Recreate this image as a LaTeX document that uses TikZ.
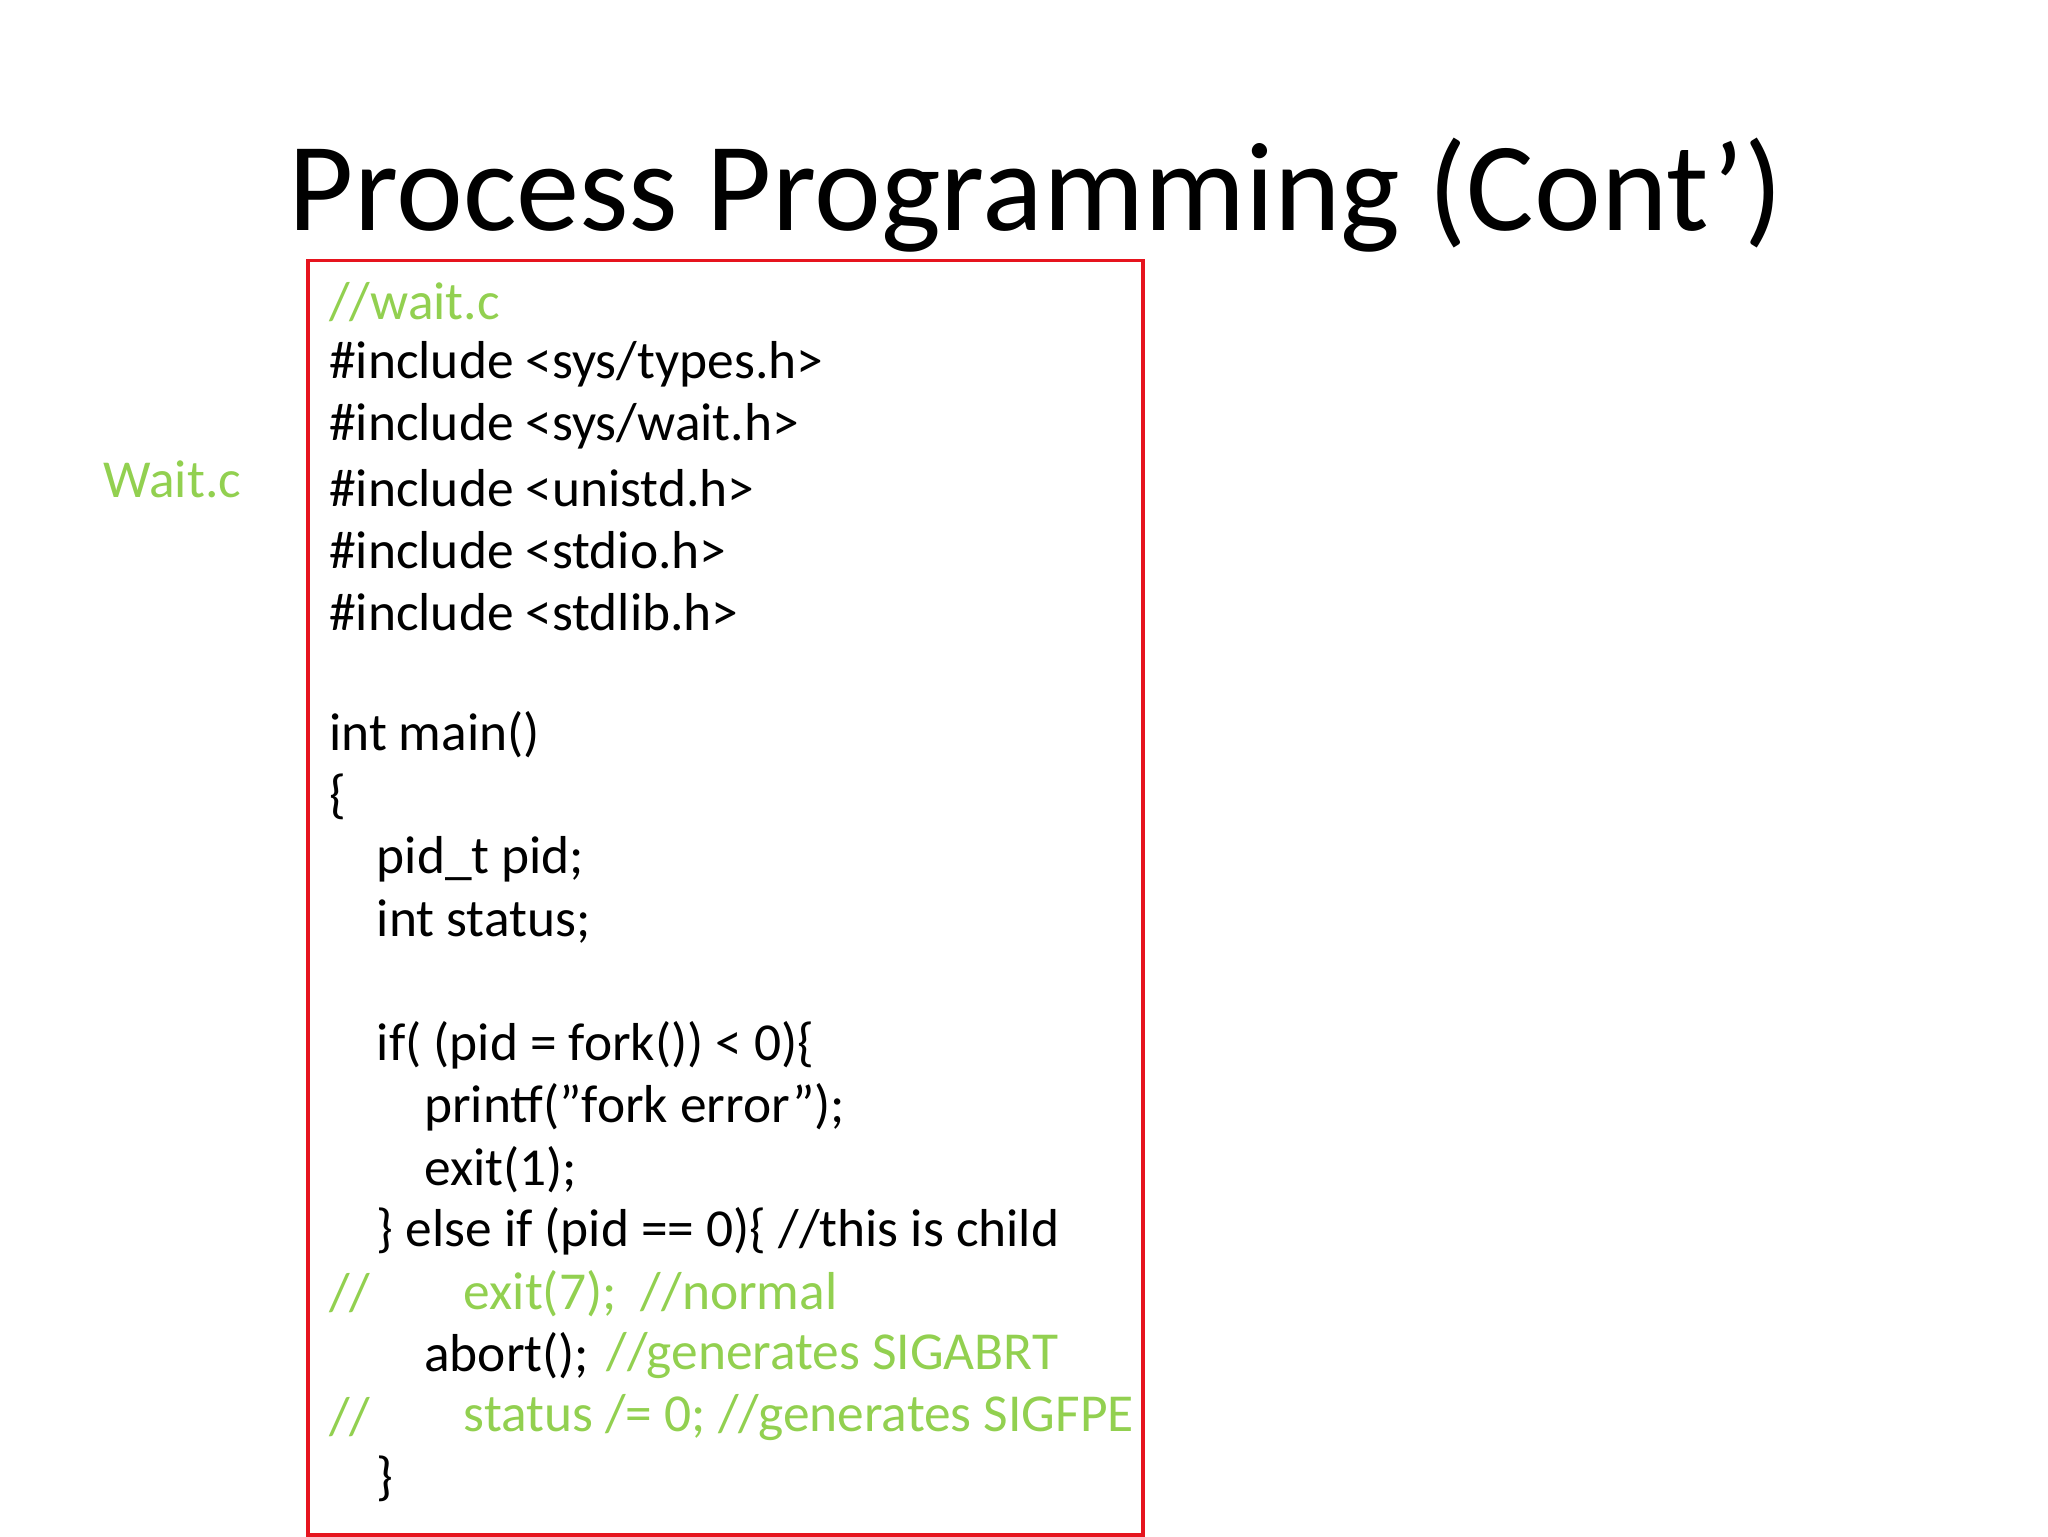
\documentclass[tikz,border=0pt]{standalone}
\usepackage{fontspec}
\setmainfont{Carlito}
\definecolor{cgreen}{RGB}{146,208,80}
\definecolor{cred}{RGB}{230,20,30}
\tikzset{code/.style={anchor=west,inner sep=0pt,font=\fontsize{15.2}{18}\selectfont},
 cmt/.style={code,text=cgreen}}
\begin{document}
\begin{tikzpicture}[x=0.013196cm,y=-0.013196cm]
\useasboundingbox (0,0) rectangle (1552,1164);
\node[font=\fontsize{36}{40}\selectfont,inner sep=0pt] (title) at (785,148) {Process Programming (Cont’)};
\node[draw=cred,line width=1pt,minimum width=633*0.013196cm,minimum height=966*0.013196cm,anchor=north west,inner sep=0pt] (box) at (232,196) {};
\node[cmt] (lab) at (78,363) {Wait.c};
\node[cmt] (l0) at (249,229) {//wait.c};
\node[code] (l1) at (249,276) {\#include <sys/types.h>};
\node[code] (l2) at (249,323) {\#include <sys/wait.h>};
\node[code] (l3) at (249,370) {\#include <unistd.h>};
\node[code] (l4) at (249,417) {\#include <stdio.h>};
\node[code] (l5) at (249,464) {\#include <stdlib.h>};
\node[code] (l7) at (249,557) {int main()};
\node[code] (l8) at (249,604) {\{};
\node[code] (l9) at (285,651) {pid\_t pid;};
\node[code] (l10) at (285,698) {int status;};
\node[code] (l12) at (285,792) {if( (pid = fork()) < 0)\{};
\node[code] (l13) at (321,839) {printf("fork error");};
\node[code] (l14) at (321,886) {exit(1);};
\node[code] (l15) at (285,933) {\} else if (pid == 0)\{ //this is child};
\node[cmt] (l16a) at (249,980) {//};
\node[cmt] (l16b) at (351,980) {exit(7);\ \ //normal};
\node[code] (l17a) at (321,1027) {abort();};
\node[cmt] (l17b) at (459,1027) {//generates SIGABRT};
\node[cmt] (l18a) at (249,1074) {//};
\node[cmt] (l18b) at (351,1074) {status /= 0; //generates SIGFPE};
\node[code] (l19) at (285,1121) {\}};
\end{tikzpicture}
\end{document}
